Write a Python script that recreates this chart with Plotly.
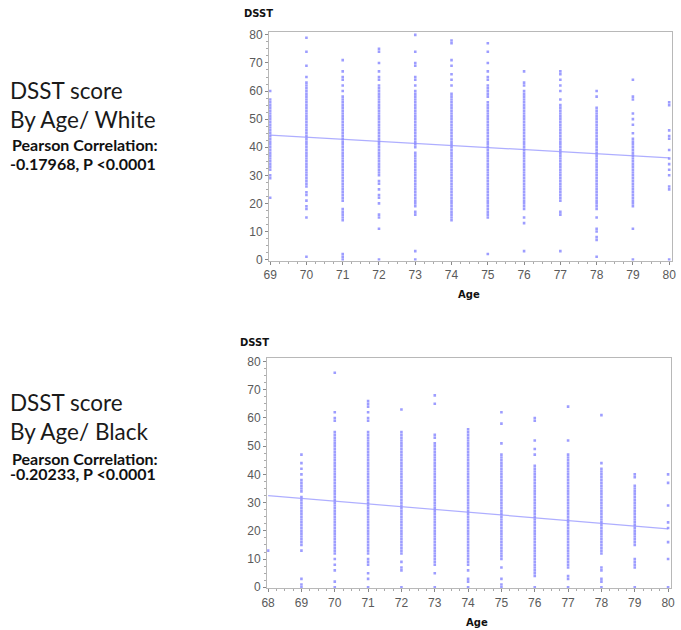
import plotly.graph_objects as go

# ---------------- DATA ----------------
# White: observed DSST scores per age (distinct values read off the strips)
white_ages = [69, 70, 71, 72, 73, 74, 75, 76, 77, 78, 79, 80]
white_scores = [
    [22, 29, 30, 32, 33, 34, 35, 36, 37, 38, 39, 40, 41, 42, 43, 44, 45, 46, 47, 48, 49, 50, 51, 52, 53, 54, 55, 56, 57, 60],
    [1, 15, 18, 19, 21, 23, 24, 26, 27, 28, 29, 30, 31, 32, 33, 34, 35, 36, 37, 38, 39, 40, 41, 42, 43, 44, 45, 46, 47, 48, 49, 50, 51, 52, 53, 54, 55, 56, 57, 58, 59, 60, 61, 62, 63, 65, 69, 74, 79],
    [0, 1, 2, 14, 15, 16, 17, 18, 21, 22, 23, 24, 25, 26, 27, 28, 29, 30, 31, 32, 33, 34, 35, 36, 37, 38, 39, 40, 41, 42, 43, 44, 45, 46, 47, 48, 49, 50, 51, 52, 53, 54, 55, 56, 57, 58, 60, 62, 64, 65, 67, 71],
    [0, 11, 15, 16, 20, 22, 23, 25, 27, 28, 30, 31, 32, 33, 34, 35, 36, 37, 38, 39, 40, 41, 42, 43, 44, 45, 46, 47, 48, 49, 50, 51, 52, 53, 54, 55, 56, 57, 58, 59, 60, 61, 62, 64, 65, 67, 70, 74, 75],
    [0, 3, 16, 17, 19, 20, 21, 22, 23, 24, 25, 26, 27, 28, 29, 30, 31, 32, 33, 34, 35, 36, 37, 38, 40, 41, 42, 43, 44, 45, 46, 47, 48, 49, 50, 51, 52, 53, 54, 55, 56, 57, 58, 59, 60, 62, 64, 65, 69, 70, 74, 80],
    [14, 15, 16, 17, 18, 19, 20, 21, 22, 23, 24, 25, 26, 27, 28, 29, 30, 31, 32, 33, 34, 35, 36, 37, 38, 39, 40, 41, 42, 43, 44, 45, 46, 47, 48, 49, 50, 51, 52, 53, 54, 55, 56, 57, 58, 59, 62, 64, 66, 69, 71, 77, 78],
    [2, 15, 16, 17, 18, 19, 20, 21, 22, 23, 24, 25, 26, 27, 28, 29, 30, 31, 32, 33, 34, 35, 36, 37, 38, 39, 40, 41, 42, 43, 44, 45, 46, 47, 48, 49, 50, 51, 52, 53, 54, 55, 56, 58, 59, 60, 61, 62, 64, 65, 67, 70, 74, 77],
    [3, 13, 15, 18, 19, 20, 21, 22, 23, 24, 25, 26, 27, 28, 29, 30, 31, 32, 33, 34, 35, 36, 37, 38, 39, 40, 41, 42, 43, 44, 45, 46, 47, 48, 49, 50, 51, 52, 53, 54, 55, 56, 57, 58, 59, 60, 62, 63, 67],
    [3, 16, 17, 21, 22, 23, 24, 25, 26, 27, 28, 29, 30, 31, 32, 33, 34, 35, 36, 37, 38, 39, 40, 41, 42, 43, 44, 45, 46, 47, 48, 49, 50, 51, 52, 53, 54, 55, 57, 60, 62, 64, 66, 67],
    [1, 7, 8, 10, 11, 15, 18, 19, 20, 21, 22, 23, 24, 25, 26, 27, 28, 29, 30, 31, 32, 33, 34, 35, 36, 37, 38, 39, 40, 41, 42, 43, 44, 45, 46, 47, 48, 49, 50, 51, 52, 53, 54, 58, 60],
    [0, 11, 19, 20, 21, 22, 23, 24, 25, 26, 27, 28, 29, 30, 31, 32, 33, 34, 35, 36, 37, 38, 39, 40, 41, 42, 43, 45, 48, 50, 52, 57, 58, 64],
    [0, 25, 26, 30, 32, 34, 36, 39, 43, 44, 46, 55, 56],
]
white_fit_ages = [69, 80]
white_fit_scores = [44.3, 36.2]

# Black: observed DSST scores per age
black_ages = [68, 69, 70, 71, 72, 73, 74, 75, 76, 77, 78, 79, 80]
black_scores = [
    [13],
    [0, 1, 3, 13, 15, 16, 17, 18, 19, 20, 21, 22, 23, 24, 25, 26, 27, 28, 29, 30, 31, 32, 34, 35, 36, 37, 38, 40, 42, 44, 47],
    [0, 2, 6, 8, 10, 12, 13, 14, 15, 16, 17, 18, 19, 20, 21, 22, 23, 24, 25, 26, 27, 28, 29, 30, 31, 32, 33, 34, 35, 36, 37, 38, 39, 40, 41, 42, 43, 44, 45, 46, 47, 48, 49, 50, 51, 52, 53, 54, 55, 59, 60, 62, 76],
    [0, 3, 5, 8, 9, 10, 12, 13, 14, 15, 16, 17, 18, 19, 20, 21, 22, 23, 24, 25, 26, 27, 28, 29, 30, 31, 32, 33, 34, 35, 36, 37, 38, 39, 40, 41, 42, 43, 44, 45, 46, 47, 48, 49, 50, 51, 52, 53, 54, 55, 59, 60, 62, 64, 65, 66],
    [0, 6, 7, 9, 12, 13, 14, 15, 16, 17, 18, 19, 20, 21, 22, 23, 24, 25, 26, 27, 28, 29, 30, 31, 32, 33, 34, 35, 36, 37, 38, 39, 40, 41, 42, 43, 44, 45, 46, 47, 48, 49, 50, 51, 52, 53, 54, 55, 63],
    [0, 5, 8, 9, 10, 11, 12, 13, 14, 15, 16, 17, 18, 19, 20, 21, 22, 23, 24, 25, 26, 27, 28, 29, 30, 31, 32, 33, 34, 35, 36, 37, 38, 39, 40, 41, 42, 43, 44, 45, 46, 47, 48, 49, 50, 51, 53, 54, 65, 68],
    [0, 2, 3, 6, 8, 9, 10, 11, 12, 13, 14, 15, 16, 17, 18, 19, 20, 21, 22, 23, 24, 25, 26, 27, 28, 29, 30, 31, 32, 33, 34, 35, 36, 37, 38, 39, 40, 41, 42, 43, 44, 45, 46, 47, 48, 49, 50, 51, 52, 53, 54, 55, 56],
    [0, 1, 3, 7, 10, 11, 12, 13, 14, 15, 16, 17, 18, 19, 20, 21, 22, 23, 24, 25, 26, 27, 28, 29, 30, 31, 32, 33, 34, 35, 36, 37, 38, 39, 40, 41, 42, 43, 44, 45, 46, 47, 51, 58, 62],
    [0, 4, 5, 6, 7, 8, 9, 10, 11, 12, 13, 14, 15, 16, 17, 18, 19, 20, 21, 22, 23, 24, 25, 26, 27, 28, 29, 30, 31, 32, 33, 34, 35, 36, 37, 38, 39, 40, 41, 42, 43, 47, 49, 52, 59, 60],
    [0, 3, 4, 7, 8, 9, 10, 11, 12, 13, 14, 15, 16, 17, 18, 19, 20, 21, 22, 23, 24, 25, 26, 27, 28, 29, 30, 31, 32, 33, 34, 35, 36, 37, 38, 39, 40, 41, 42, 43, 44, 45, 46, 47, 52, 64],
    [0, 2, 3, 6, 7, 12, 13, 14, 15, 16, 17, 18, 19, 20, 21, 22, 23, 24, 25, 26, 27, 28, 29, 30, 31, 32, 33, 34, 35, 36, 37, 38, 39, 40, 41, 42, 44, 61],
    [0, 7, 8, 9, 10, 15, 16, 17, 18, 19, 20, 21, 22, 23, 24, 25, 26, 27, 28, 29, 30, 31, 32, 33, 34, 35, 36, 39, 40],
    [0, 10, 16, 21, 23, 29, 37, 40],
]
black_fit_ages = [68, 80]
black_fit_scores = [32.5, 20.7]

x_ticks_white = [69, 70, 71, 72, 73, 74, 75, 76, 77, 78, 79, 80]
x_ticks_black = [68, 69, 70, 71, 72, 73, 74, 75, 76, 77, 78, 79, 80]
y_ticks = [0, 10, 20, 30, 40, 50, 60, 70, 80]

# ---------------- FIGURE ----------------
W, H = 681, 630
PT_COLOR = "rgba(105,105,255,0.65)"
LINE_COLOR = "rgba(140,140,255,0.7)"

# vertical compensation observed for the photographed page
OY, SY = 3.2, 0.985


def flatten(ages, scores):
    xs, ys = [], []
    for a, vals in zip(ages, scores):
        for v in vals:
            xs.append(a)
            ys.append(v)
    return xs, ys


fig = go.Figure()

wx, wy = flatten(white_ages, white_scores)
bx, by = flatten(black_ages, black_scores)

fig.add_trace(go.Scatter(x=wx, y=wy, mode="markers", xaxis="x", yaxis="y",
                         marker=dict(symbol="square", size=2.6, color=PT_COLOR, line=dict(width=0)),
                         showlegend=False, hoverinfo="x+y"))
fig.add_trace(go.Scatter(x=white_fit_ages, y=white_fit_scores, mode="lines", xaxis="x", yaxis="y",
                         line=dict(color=LINE_COLOR, width=1.2), showlegend=False))
fig.add_trace(go.Scatter(x=bx, y=by, mode="markers", xaxis="x2", yaxis="y2",
                         marker=dict(symbol="square", size=2.6, color=PT_COLOR, line=dict(width=0)),
                         showlegend=False, hoverinfo="x+y"))
fig.add_trace(go.Scatter(x=black_fit_ages, y=black_fit_scores, mode="lines", xaxis="x2", yaxis="y2",
                         line=dict(color=LINE_COLOR, width=1.2), showlegend=False))


def px_x(p):
    return p / W


def px_y(p):
    return 1 - ((p - OY) / SY) / H


tick_font = dict(family="Liberation Sans", size=12, color="#5a5a5a")
common_x = dict(showline=True, linecolor="#b8b8b8", linewidth=1, mirror=True,
                showgrid=False, zeroline=False, ticks="outside", ticklen=3,
                tickcolor="#888888", tickfont=tick_font, ticklabeloverflow="allow",
                minor=dict(ticks="outside", ticklen=2, dtick=0.25, tickcolor="#aaaaaa"))
common_y = dict(showline=True, linecolor="#b8b8b8", linewidth=1, mirror=True,
                showgrid=False, zeroline=False, ticks="outside", ticklen=3,
                tickcolor="#888888", tickfont=tick_font,
                tickvals=y_ticks, ticktext=[str(v) for v in y_ticks],
                minor=dict(ticks="outside", ticklen=2, dtick=2.5, tickcolor="#aaaaaa"))

fig.update_layout(
    width=W, height=H,
    margin=dict(l=0, r=0, t=0, b=0),
    paper_bgcolor="white", plot_bgcolor="white",
    xaxis=dict(domain=[px_x(267), px_x(676)], range=[68.97, 80.08], anchor="y",
               tickvals=x_ticks_white, ticktext=[str(v) for v in x_ticks_white], **common_x),
    yaxis=dict(domain=[px_y(260), px_y(31)], range=[-0.35, 81.1], anchor="x", **common_y),
    xaxis2=dict(domain=[px_x(265), px_x(675)], range=[67.97, 80.09], anchor="y2",
                tickvals=x_ticks_black, ticktext=[str(v) for v in x_ticks_black], **common_x),
    yaxis2=dict(domain=[px_y(588), px_y(358)], range=[-0.35, 81.06], anchor="x2", **common_y),
)

big = dict(family="Lato", size=22.5, color="#1a1a1a")
small = dict(family="Lato", size=16, color="#111111")
lab = dict(family="DejaVu Sans", size=10, color="#111111")


def note(text, x, y, font, xanchor="left"):
    fig.add_annotation(text=text, x=px_x(x), y=px_y(y), xref="paper", yref="paper",
                       xanchor=xanchor, yanchor="middle", showarrow=False, font=font)


note("DSST score", 2, 90, big)
note("By Age/ White", 2, 119, big)
note("<b>Pearson Correlation:</b>", 4, 144, small)
note("<b>-0.17968, P &lt;0.0001</b>", 2, 163, small)

note("DSST score", 2, 402, big)
note("By Age/ Black", 2, 431, big)
note("<b>Pearson Correlation:</b>", 4, 458, small)
note("<b>-0.20233, P &lt;0.0001</b>", 2, 473, small)

note("<b>DSST</b>", 240, 13, lab)
note("<b>DSST</b>", 235, 342, lab)
note("<b>Age</b>", 470, 294, lab, xanchor="center")
note("<b>Age</b>", 478, 622, lab, xanchor="center")

fig.write_html("out.html", config={"displayModeBar": False},
               post_script="document.body.style.margin='0';")
